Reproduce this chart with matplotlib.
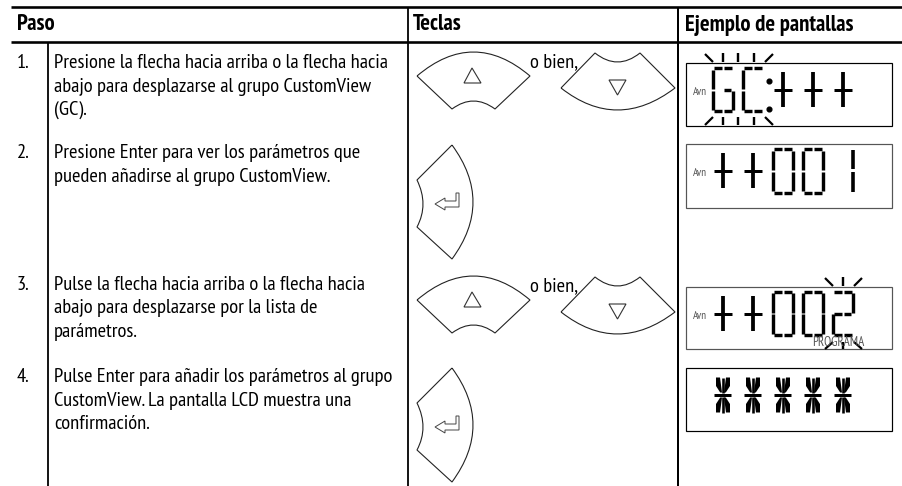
import matplotlib
matplotlib.use("Agg")
import matplotlib.pyplot as plt
from matplotlib.path import Path
from matplotlib.patches import PathPatch, Rectangle

W, H = 903, 486
PX = 0.72  # one pixel in points at dpi 100

FONT = ['PT Sans Narrow', 'Liberation Sans']
BODY_SIZE = 14.75

headers = ["Paso", "Teclas", "Ejemplo de pantallas"]
step_numbers = ["1.", "2.", "3.", "4."]
step_lines = [
    ["Presione la flecha hacia arriba o la flecha hacia",
     "abajo para desplazarse al grupo CustomView",
     "(GC)."],
    ["Presione Enter para ver los parámetros que",
     "pueden añadirse al grupo CustomView."],
    ["Pulse la flecha hacia arriba o la flecha hacia",
     "abajo para desplazarse por la lista de",
     "parámetros."],
    ["Pulse Enter para añadir los parámetros al grupo",
     "CustomView. La pantalla LCD muestra una",
     "confirmación."],
]
step_y = [68, 158, 289.5, 382]
line_gap = 23.5
or_text = "o bien,"

# which keys each step shows
arrow_rows = [0, 224]
enter_rows = [0, 223]

# LCD boxes: top, bottom, box colour
lcd_boxes = [(63, 126, "black"), (144, 208, "#555555"), (287, 349, "#555555"), (368, 431, "black")]
lcd_text = ["GC+++", "++001", "++002", "*****"]
lcd_center_y = [90, 171, 313.5, 395]
lcd_cells = [723, 753, 783, 813, 843]

# segments in cell units (x from -1 to 1, y from -1 to 1)
SEG = {
    "a1": (-0.9, -1, -0.06, -1), "a2": (0.06, -1, 0.9, -1),
    "d1": (-0.9, 1, -0.06, 1), "d2": (0.06, 1, 0.9, 1),
    "f": (-1, -0.95, -1, -0.04), "e": (-1, 0.04, -1, 0.95),
    "b": (1, -0.95, 1, -0.04), "c": (1, 0.04, 1, 0.95),
    "g1": (-0.85, 0, -0.06, 0), "g2": (0.06, 0, 0.85, 0),
}
GLYPHS = {
    "G": ["a1", "a2", "f", "e", "g2", "c", "d1", "d2"],
    "C": ["a1", "a2", "f", "e", "d1", "d2"],
    "0": ["a1", "a2", "f", "e", "b", "c", "d1", "d2"],
    "2": ["a1", "a2", "b", "g1", "g2", "e", "d1", "d2"],
}


def curved_outline(ax, verts, codes, color="#222222", lw=0.85):
    ax.add_patch(PathPatch(Path(verts, codes), fc="none", ec=color, lw=lw * PX * 1.3, joinstyle="miter"))


def arc(mid, a, b):
    # control point of the curve going from a through mid to b
    return (2 * mid[0] - (a[0] + b[0]) / 2, 2 * mid[1] - (a[1] + b[1]) / 2)


def fan_key(ax, cx, dy, pts, top_mid, bottom_mid, tri):
    left, right, br, bl = [(cx + x, y + dy) for x, y in pts]
    top = (cx, top_mid + dy)
    bot = (cx, bottom_mid + dy)
    verts = [left, arc(top, left, right), right, br, arc(bot, br, bl), bl, left]
    codes = [Path.MOVETO, Path.CURVE3, Path.CURVE3, Path.LINETO, Path.CURVE3, Path.CURVE3, Path.LINETO]
    curved_outline(ax, verts, codes)
    ax.add_patch(plt.Polygon([(cx + x, y + dy) for x, y in tri], closed=True, fc="white", ec="#333333", lw=0.8))


def enter_key(ax, dy):
    tl, l1, l2, bl = (452, 145 + dy), (417, 180 + dy), (417, 227 + dy), (452, 259 + dy)
    verts = [tl, l1, arc((423, 204 + dy), l1, l2), l2, bl, arc((473, 202 + dy), bl, tl), tl]
    codes = [Path.MOVETO, Path.LINETO, Path.CURVE3, Path.CURVE3, Path.LINETO, Path.CURVE3, Path.CURVE3]
    curved_outline(ax, verts, codes)
    arrow = [(435, 204), (445, 198), (445, 201), (456, 201), (456, 193), (459, 193),
             (459, 207), (445, 207), (445, 210)]
    ax.add_patch(plt.Polygon([(x, y + dy) for x, y in arrow], closed=True, fc="white", ec="#444444", lw=0.7))


def seg_line(ax, x0, y0, x1, y1, lw=2.6, color="black"):
    ax.plot([x0, x1], [y0, y1], color=color, lw=lw * PX, solid_capstyle="butt")


def draw_glyph(ax, ch, cx, cy):
    if ch == "+":
        seg_line(ax, cx - 9, cy, cx + 9, cy, lw=3)
        seg_line(ax, cx, cy - 17.5, cx, cy + 17.5, lw=3.8)
    elif ch == "*":
        hh = 17.5
        seg_line(ax, cx - 8.5, cy, cx + 8.5, cy, lw=3)
        for sy in (-1, 1):
            # fat wedges fanning out from the middle of the star
            for sx in (-1, 1):
                ax.fill([cx + sx * 1.0, cx + sx * 2.8, cx + sx * 7, cx + sx * 7, cx + sx * 3],
                        [cy + sy * 2.5, cy + sy * 2.5, cy + sy * 9, cy + sy * hh, cy + sy * hh],
                        color="black", lw=0)
            seg_line(ax, cx, cy + sy * 2, cx, cy + sy * hh, lw=2.6)
    elif ch == "1":
        seg_line(ax, cx + 10, cy - 21, cx + 10, cy - 1.5, lw=3.6)
        seg_line(ax, cx + 10, cy + 1.5, cx + 10, cy + 21, lw=3.6)
    else:
        hw, hh = 10, 21.5
        for name in GLYPHS[ch]:
            x0, y0, x1, y1 = SEG[name]
            seg_line(ax, cx + x0 * hw, cy + y0 * hh, cx + x1 * hw, cy + y1 * hh, lw=3.4)


def blink_ticks(ax, xs, xl, xr, top, bot):
    # short rays around a blinking digit
    for x in xs:
        seg_line(ax, x, top[0], x, top[1], lw=2.4)
        seg_line(ax, x, bot[0], x, bot[1], lw=2.4)
    seg_line(ax, xl - 8, top[0] + 1, xl, top[1], lw=2.2)
    seg_line(ax, xr + 8, top[0] + 1, xr, top[1], lw=2.2)
    seg_line(ax, xl - 8, bot[1], xl, bot[0], lw=2.2)
    seg_line(ax, xr + 8, bot[1], xr, bot[0], lw=2.2)


fig = plt.figure(figsize=(W / 100, H / 100), dpi=100)
ax = fig.add_axes([0, 0, 1, 1])
ax.set_xlim(0, W)
ax.set_ylim(H, 0)
ax.axis("off")

# table rules
ax.plot([11, W], [7, 7], color="black", lw=2.6 * PX, solid_capstyle="butt")
ax.plot([11, W], [42.5, 42.5], color="black", lw=2.6 * PX, solid_capstyle="butt")
ax.plot([47.8, 47.8], [42, H], color="black", lw=1.8 * PX, solid_capstyle="butt")
ax.plot([408.3, 408.3], [7, H], color="black", lw=1.8 * PX, solid_capstyle="butt")
ax.plot([678, 678], [7, H], color="black", lw=2 * PX, solid_capstyle="butt")

# headers
for label, x in zip(headers, [17, 413, 685]):
    ax.text(x, 25, label, family=FONT, fontsize=16.3, fontweight="bold", va="center", ha="left")

# steps
for num, lines, y in zip(step_numbers, step_lines, step_y):
    ax.text(17, y, num, family=FONT, fontsize=BODY_SIZE, va="baseline", ha="left")
    for i, line in enumerate(lines):
        ax.text(54, y + i * line_gap, line, family=FONT, fontsize=BODY_SIZE, va="baseline", ha="left")

# keys
for dy in arrow_rows:
    fan_key(ax, 473.5, dy, [(-56.5, 76), (56.5, 76), (21.5, 109), (-21.5, 109)], 52, 101,
            [(-1.5, 68), (7.5, 83), (-9.5, 83)])
    fan_key(ax, 617.5, dy, [(-56.5, 88), (57.5, 88), (22.5, 53), (-22.5, 53)], 110, 62,
            [(0, 95), (8.5, 80), (-8.5, 80)])
    ax.text(530, 67 + dy, or_text, family=FONT, fontsize=BODY_SIZE, va="baseline", ha="left")
for dy in enter_rows:
    enter_key(ax, dy)

# LCD panels
for (top, bot, col) in lcd_boxes:
    ax.add_patch(Rectangle((686, top), 206, bot - top, fc="none", ec=col, lw=1.2 * PX))
for word, cy in zip(lcd_text, lcd_center_y):
    for ch, cx in zip(word, lcd_cells):
        draw_glyph(ax, ch, cx, cy)
    if word != "*****":
        ax.text(700, cy + 2, "Avn", family=FONT, fontsize=8, color="#555555", ha="center", va="center")

ax.plot([769, 769], [81, 109], ls="none", marker="o", ms=3.4, color="black")
blink_ticks(ax, [723, 738, 754], 713, 765, (53, 62), (117, 125))
blink_ticks(ax, [843], 833, 854, (277, 286), (342, 349))
ax.text(838, 342, "PROGRAMA", family=FONT, fontsize=9.4, color="#555555", ha="center", va="center")

fig.savefig("out.png", dpi=100)
